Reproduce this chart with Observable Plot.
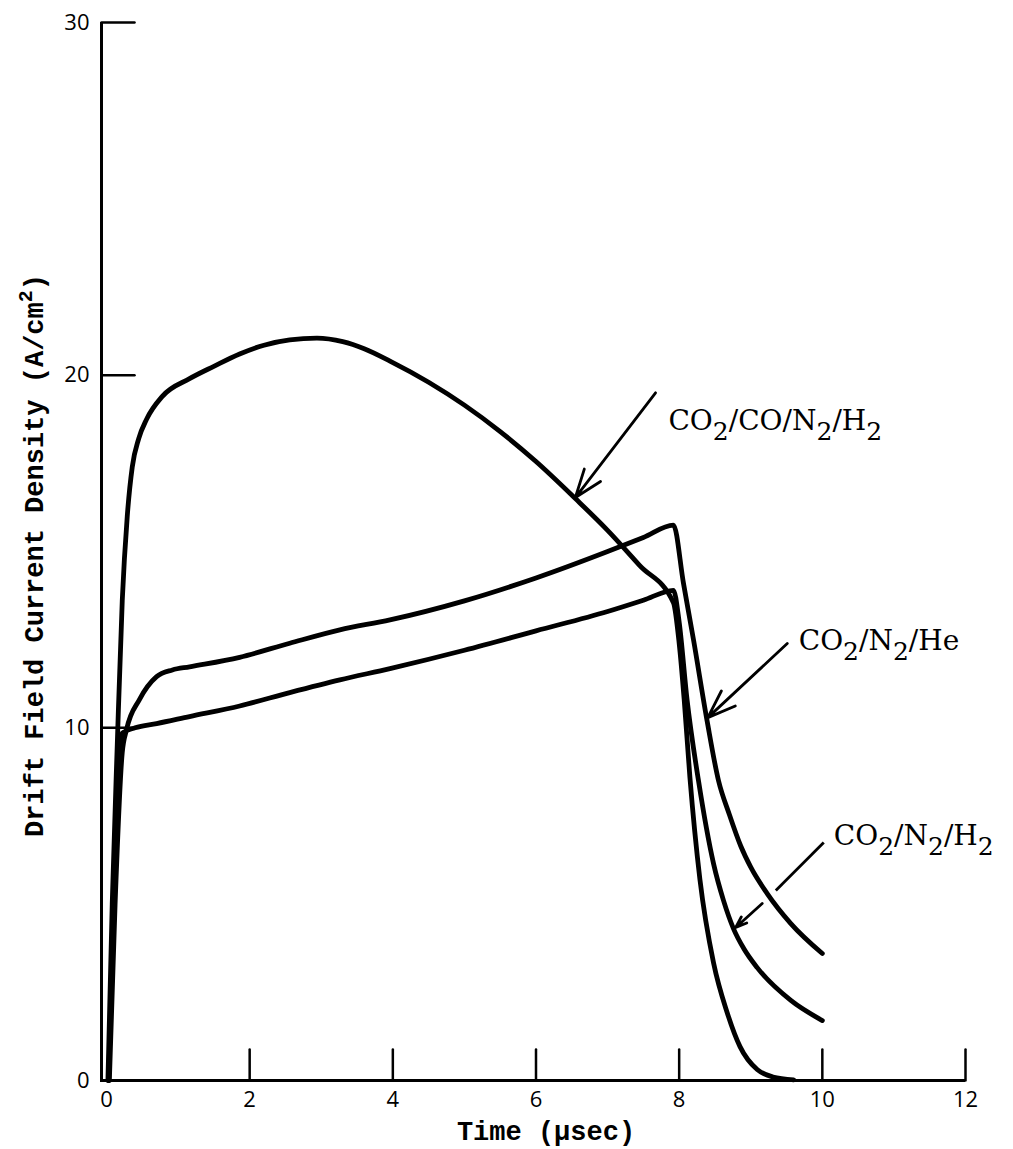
<!DOCTYPE html>
<html><head><meta charset="utf-8">
<script src="https://cdn.jsdelivr.net/npm/d3@7"></script>
<script src="https://cdn.jsdelivr.net/npm/@observablehq/plot@0.6"></script>
<style>body{margin:0;background:#fff;} svg{display:block;}</style>
</head><body><div id="chart"></div>
<script>
// ---- data ----
const seriesNames = ["CO2/CO/N2/H2", "CO2/N2/He", "CO2/N2/H2"];

const timeA = [0.02,0.08,0.15,0.22,0.29,0.36,0.45,0.56,0.78,1.16,1.5,1.86,2.2,2.56,2.94,3.3,3.6,3.96,4.5,5,5.5,6,6.55,7,7.45,7.92,8.0,8.07,8.15,8.29,8.48,8.67,8.85,9.09,9.31,9.6];
const valA  = [0,5,9.5,13.6,16.0,17.4,18.2,18.75,19.4,19.9,20.25,20.6,20.85,21.0,21.05,20.95,20.75,20.4,19.8,19.15,18.4,17.55,16.5,15.6,14.6,13.55,12.4,10.8,8.6,5.7,3.34,1.93,0.96,0.31,0.1,0.02];

const timeB = [0.04,0.12,0.22,0.28,0.46,0.7,0.92,1.16,1.86,2.56,3.26,3.96,5,6,7,7.5,7.92,8.06,8.2,8.39,8.55,8.7,8.86,9.0,9.23,9.56,10];
const valB  = [0,5,9.3,9.95,10.8,11.45,11.64,11.73,12.0,12.4,12.78,13.06,13.6,14.25,15.0,15.4,15.75,14.1,12.5,10.2,8.5,7.55,6.65,6.05,5.3,4.45,3.6];

const timeC = [0.03,0.1,0.17,0.22,0.4,0.7,1.16,1.86,2.56,3.26,3.96,5,6,7,7.5,7.92,8.0,8.11,8.27,8.48,8.62,8.76,8.9,9.09,9.56,10];
const valC  = [0,5,9.0,9.85,10.0,10.12,10.32,10.62,11.0,11.36,11.68,12.2,12.75,13.3,13.62,13.9,13.0,10.8,8.5,6.15,5.1,4.3,3.75,3.2,2.27,1.7];

const xTickValues = [0,2,4,6,8,10,12];
const yTickValues = [0,10,20,30];
const xTickMarks = [2,4,6,8,10,12];
const yTickMarks = [10,20,30];

// annotation labels and leader arrows
const labelText = seriesNames;
const labelX = [7.85, 9.67, 10.16];
const labelY = [18.7, 12.45, 6.92];
const arrowX1 = [7.67, 9.51, 9.16];
const arrowY1 = [19.5, 12.39, 5.02];
const arrowX2 = [6.55, 8.40, 8.79];
const arrowY2 = [16.53, 10.29, 4.34];
const leaderX1 = [10.02], leaderY1 = [6.75], leaderX2 = [9.35], leaderY2 = [5.39];

// ---- build tables ----
const rows = [];
[[timeA,valA],[timeB,valB],[timeC,valC]].forEach(([t,v],i) => t.forEach((x,j) => rows.push({series: seriesNames[i], t: x, v: v[j]})));
const labels = labelText.map((s,i) => ({s, x: labelX[i], y: labelY[i]}));
const arrows = arrowX1.map((d,i) => ({x1: d, y1: arrowY1[i], x2: arrowX2[i], y2: arrowY2[i]}));
const leaders = leaderX1.map((d,i) => ({x1: d, y1: leaderY1[i], x2: leaderX2[i], y2: leaderY2[i]}));

const tickShape = {draw(ctx, l) { ctx.moveTo(0, 0); ctx.lineTo(0, -l); }};

const chart = Plot.plot({
  width: 1013, height: 1149,
  marginLeft: 106, marginRight: 48, marginTop: 22, marginBottom: 69,
  x: {domain: [0, 12]},
  y: {domain: [0, 30]},
  style: {background: "#fff", color: "#000", fontFamily: "'Open Sans', sans-serif"},
  marks: [
    Plot.ruleX([0], {dx: -5, stroke: "#000", strokeWidth: 3}),
    Plot.ruleY([0], {insetLeft: -6, stroke: "#000", strokeWidth: 3}),
    Plot.vector(xTickMarks, {x: d => d, y: 0, length: 31, rotate: 0, anchor: "start", shape: tickShape, stroke: "#000", strokeWidth: 2.5}),
    Plot.vector(yTickMarks, {x: 0, y: d => d, dx: -5, length: 33, rotate: 90, anchor: "start", shape: tickShape, stroke: "#000", strokeWidth: 2.5}),
    Plot.axisX({ticks: xTickValues, tickSize: 0, tickPadding: 11, fontSize: 22, label: null}),
    Plot.axisY({ticks: yTickValues, tickSize: 0, tickPadding: 17, fontSize: 22, label: null}),
    Plot.line(rows, {x: "t", y: "v", z: "series", stroke: "#000", strokeWidth: 4.8, curve: "monotone-x", strokeLinejoin: "round", strokeLinecap: "round"}),
    Plot.arrow(arrows, {x1: "x1", y1: "y1", x2: "x2", y2: "y2", stroke: "#000", strokeWidth: 2.8, headLength: 16, headAngle: 40}),
    Plot.link(leaders, {x1: "x1", y1: "y1", x2: "x2", y2: "y2", stroke: "#000", strokeWidth: 2.8}),
    Plot.text(labels, {x: "x", y: "y", text: "s", textAnchor: "start", fontSize: 28, fontFamily: "'DejaVu Serif', serif", fill: "#000"}),
    Plot.text(["Drift Field Current Density (A/cm2)"], {frameAnchor: "left", textAnchor: "middle", dx: -72, dy: 4, rotate: -90, fontSize: 27, fontWeight: "bold", fontFamily: "'Liberation Mono', monospace", fill: "#000"}),
    Plot.text(["Time (\u03bcsec)"], {frameAnchor: "bottom", dx: 10, dy: 59, fontSize: 27, fontWeight: "bold", fontFamily: "'Liberation Mono', monospace", fill: "#000"})
  ]
});

// subscripts / superscripts as real text via tspans
d3.select(chart).selectAll("text").each(function() {
  const t = this.textContent;
  if (seriesNames.includes(t)) {
    const el = d3.select(this);
    el.text(null);
    let low = false;
    t.split(/(\d)/).filter(s => s.length).forEach(part => {
      if (/^\d$/.test(part)) {
        el.append("tspan").attr("dy", low ? 0 : 10).attr("font-size", 25).text(part);
        low = true;
      } else {
        el.append("tspan").attr("dy", low ? -10 : 0).text(part);
        low = false;
      }
    });
  } else if (t === "Drift Field Current Density (A/cm2)") {
    const el = d3.select(this);
    el.text(null);
    el.append("tspan").text("Drift Field Current Density (A/cm");
    el.append("tspan").attr("dy", -11).attr("font-size", 20).text("2");
    el.append("tspan").attr("dy", 11).text(")");
  }
});

document.getElementById("chart").appendChild(chart);
</script>
</body></html>
